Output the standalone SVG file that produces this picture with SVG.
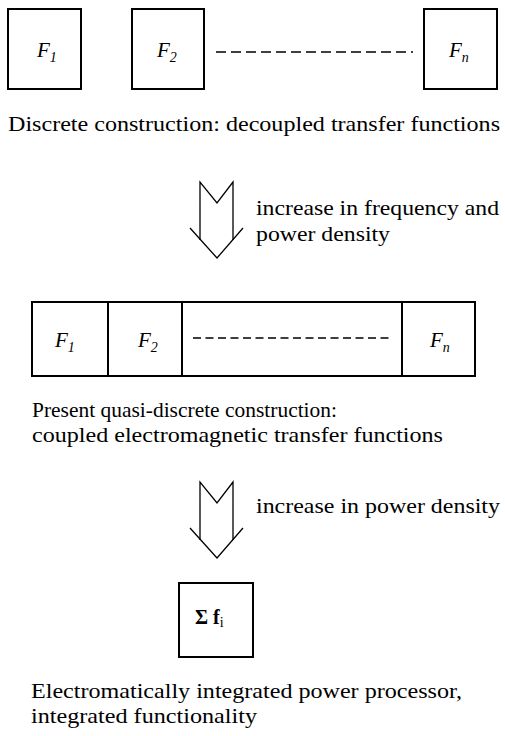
<svg xmlns="http://www.w3.org/2000/svg" width="505" height="736" viewBox="0 0 505 736">
<style>
.box{fill:#fff;stroke:#000;stroke-width:2}
.div{stroke:#000;stroke-width:2}
.dash{stroke:#000;stroke-width:1.3;fill:none}
.arr{fill:none;stroke:#000;stroke-width:1.3;stroke-linejoin:miter}
.t{font-family:"Liberation Serif",serif;font-size:22px;fill:#000}
.f{font-family:"Liberation Serif",serif;font-style:italic;font-size:21px;fill:#000}
.sub{font-size:14px}
</style>
<rect width="505" height="736" fill="#fff"/>
<g id="F1-top"><rect class="box" x="8" y="9" width="73" height="80"/><text class="f" x="37" y="57">F<tspan class="sub" dy="5">1</tspan></text></g>
<g id="F2-top"><rect class="box" x="132" y="9" width="72" height="80"/><text class="f" x="157" y="57">F<tspan class="sub" dy="5">2</tspan></text></g>
<g id="Fn-top"><rect class="box" x="424" y="9" width="73" height="80"/><text class="f" x="449" y="57">F<tspan class="sub" dy="5">n</tspan></text></g>
<text class="t" x="8" y="131" textLength="492" lengthAdjust="spacingAndGlyphs">Discrete construction:  decoupled transfer functions</text>
<g id="arrow1">
<polyline class="arr" points="200,240 200,182 217,203 233,182 233,240"/>
<polyline class="arr" points="190,228 217,258 243,228"/>
</g>
<text class="t" x="256" y="215" textLength="243" lengthAdjust="spacingAndGlyphs">increase in frequency and</text>
<text class="t" x="256" y="241" textLength="134" lengthAdjust="spacingAndGlyphs">power density</text>
<g id="F-row">
<rect class="box" x="32" y="302" width="443" height="74"/>
<line class="div" x1="108" y1="302" x2="108" y2="376"/>
<line class="div" x1="182" y1="302" x2="182" y2="376"/>
<line class="div" x1="402" y1="302" x2="402" y2="376"/>
<text class="f" x="55" y="347">F<tspan class="sub" dy="5">1</tspan></text>
<text class="f" x="138" y="347">F<tspan class="sub" dy="5">2</tspan></text>
<text class="f" x="430" y="347">F<tspan class="sub" dy="5">n</tspan></text>
</g>
<text class="t" x="32" y="417" textLength="305" lengthAdjust="spacingAndGlyphs">Present quasi-discrete construction:</text>
<text class="t" x="32" y="442" textLength="411" lengthAdjust="spacingAndGlyphs">coupled electromagnetic transfer functions</text>
<g id="arrow2">
<polyline class="arr" points="200,540 200,482 217,503 233,482 233,540"/>
<polyline class="arr" points="190,528 217,558 243,528"/>
</g>
<text class="t" x="256" y="513" textLength="244" lengthAdjust="spacingAndGlyphs">increase in power density</text>
<g id="sum"><rect class="box" x="179" y="583" width="74" height="74"/><text class="t" x="195" y="624" style="font-weight:bold;font-size:20px">Σ f<tspan class="sub" dy="3" style="font-weight:normal">i</tspan></text></g>
<text class="t" x="31" y="698" textLength="431" lengthAdjust="spacingAndGlyphs">Electromatically integrated power processor,</text>
<text class="t" x="31" y="723" textLength="226" lengthAdjust="spacingAndGlyphs">integrated functionality</text>
<g id="connectors">
<line class="dash" x1="216" y1="52" x2="413" y2="52" stroke-dasharray="10 5"/>
<line class="dash" x1="193" y1="338" x2="390" y2="338" stroke-dasharray="8 4.5"/>
</g>
</svg>
